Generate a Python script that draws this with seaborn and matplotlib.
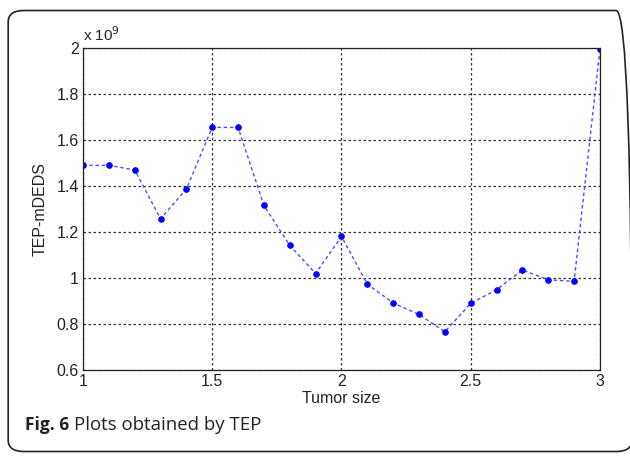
import matplotlib
matplotlib.use("Agg")
import matplotlib.pyplot as plt
from matplotlib.patches import FancyBboxPatch
import seaborn as sns
import pandas as pd

tumor_size = [1.0, 1.1, 1.2, 1.3, 1.4, 1.5, 1.6, 1.7, 1.8, 1.9, 2.0,
              2.1, 2.2, 2.3, 2.4, 2.5, 2.6, 2.7, 2.8, 2.9, 3.0]
tep_mdeds = [1.49, 1.49, 1.47, 1.258, 1.387, 1.655, 1.655, 1.316, 1.142, 1.02, 1.181,
             0.974, 0.892, 0.842, 0.767, 0.89, 0.95, 1.035, 0.993, 0.986, 1.995]  # x 1e9
x_ticks = [1, 1.5, 2, 2.5, 3]
x_tick_labels = ["1", "1.5", "2", "2.5", "3"]
y_ticks = [0.6, 0.8, 1.0, 1.2, 1.4, 1.6, 1.8, 2.0]
y_tick_labels = ["0.6", "0.8", "1", "1.2", "1.4", "1.6", "1.8", "2"]

df = pd.DataFrame({"Tumor size": tumor_size, "TEP-mDEDS": tep_mdeds})

sns.set_theme(style="white")
plt.rcParams["font.family"] = ["Liberation Sans", "DejaVu Sans"]

fig = plt.figure(figsize=(6.3, 4.57), dpi=100)
ax = fig.add_axes([0.1317, 0.19, 0.8206, 0.705])

sns.lineplot(data=df, x="Tumor size", y="TEP-mDEDS", ax=ax, color=(0.3, 0.3, 1.0),
             linewidth=1.0, linestyle=(0, (2.5, 2)), marker="o", markersize=4,
             markerfacecolor="#0000ff", markeredgecolor="#0000ff", alpha=1.0)

ax.set_xlim(1, 3)
ax.set_ylim(0.6, 2.0)
ax.set_xticks(x_ticks)
ax.set_xticklabels(x_tick_labels)
ax.set_yticks(y_ticks)
ax.set_yticklabels(y_tick_labels)
ax.tick_params(axis="both", direction="in", length=4, width=0.8, labelsize=11.5,
               colors="#222222", pad=3)
ax.tick_params(axis="x", pad=3)
ax.grid(True, color="#333333", linestyle=(0, (2, 2)), linewidth=0.9)
for s in ax.spines.values():
    s.set_color("#222222")
    s.set_linewidth(0.9)
    s.set_visible(True)
ax.set_xlabel("Tumor size", fontsize=11.5, color="#222222", labelpad=1)
ax.set_ylabel("TEP-mDEDS", fontsize=11.5, color="#222222", labelpad=6)
ax.text(0.0, 1.012, r"x 10$^{9}$", transform=ax.transAxes, fontsize=11,
        color="#222222", ha="left", va="bottom")

frame = FancyBboxPatch((0.013, 0.012), 0.99, 0.965,
                       boxstyle="round,pad=0,rounding_size=0.025",
                       transform=fig.transFigure, fill=False,
                       edgecolor="#222222", linewidth=1.2)
fig.patches.append(frame)

fig.text(0.04, 0.06, "Fig. 6", fontsize=12.5, fontweight="bold",
         family=["Open Sans", "DejaVu Sans"], color="#222222", va="baseline")
fig.text(0.117, 0.06, "Plots obtained by TEP", fontsize=13.4,
         family=["Open Sans", "DejaVu Sans"], color="#222222", va="baseline")

fig.savefig("out.png", dpi=100)
